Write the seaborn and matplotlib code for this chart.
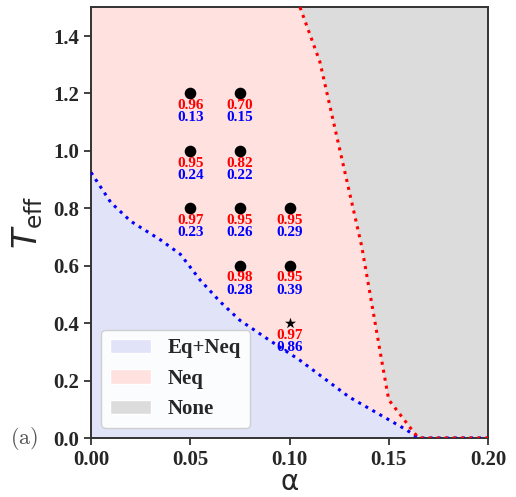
# encoding=utf-8

import numpy as np
import pandas as pd
import seaborn as sns
import matplotlib.pyplot as plt
from matplotlib.patches import Patch
from matplotlib.font_manager import FontProperties

# boundary Eq+Neq / Neq (blue dotted)
blue_alpha = [0.0, 0.01, 0.02, 0.035, 0.045, 0.055, 0.065, 0.075, 0.09, 0.105, 0.13, 0.159, 0.165, 0.2]
blue_T = [0.925, 0.82, 0.755, 0.69, 0.64, 0.55, 0.475, 0.41, 0.34, 0.272, 0.143, 0.028, 0.0, 0.0]

# boundary Neq / None (red dotted)
red_alpha = [0.1053, 0.1153, 0.1364, 0.147, 0.150, 0.1624, 0.165, 0.2]
red_T = [1.5, 1.31, 0.667, 0.248, 0.133, 0.022, 0.0, 0.0]

# simulated points
pt_alpha = [0.05, 0.075, 0.05, 0.075, 0.05, 0.075, 0.10, 0.075, 0.10]
pt_T = [1.2, 1.2, 1.0, 1.0, 0.8, 0.8, 0.8, 0.6, 0.6]
pt_red = ['0.96', '0.70', '0.95', '0.82', '0.97', '0.95', '0.95', '0.98', '0.95']
pt_blue = ['0.13', '0.15', '0.24', '0.22', '0.23', '0.26', '0.29', '0.28', '0.39']

star_alpha = [0.10]
star_T = [0.4]
star_red = ['0.97']
star_blue = ['0.86']

c_eq = '#e1e3f8'
c_neq = '#ffe2e0'
c_none = '#dcdcdc'

sns.set_style("ticks")
plt.rcParams['font.family'] = ['Liberation Serif', 'DejaVu Serif']
plt.rcParams['mathtext.fontset'] = 'dejavusans'

fig = plt.figure(figsize=(5.16, 4.97), dpi=100)
ax = fig.add_axes([0.1764, 0.1187, 0.7693, 0.8666])
ax.set_facecolor(c_none)

# regions
ra = np.array(red_alpha)
rt = np.array(red_T)
ax.fill(np.r_[0.0, ra[:-1], 0.0], np.r_[1.5, rt[:-1], 0.0], color=c_neq, lw=0, zorder=0)
ax.fill_between(blue_alpha, 0, blue_T, color=c_eq, lw=0, zorder=1)

blue_df = pd.DataFrame({'a': blue_alpha, 'T': blue_T})
red_df = pd.DataFrame({'a': red_alpha, 'T': red_T})
sns.lineplot(data=blue_df, x='a', y='T', sort=False, estimator=None, color='blue',
             linestyle=':', lw=2.2, ax=ax, zorder=3)
sns.lineplot(data=red_df, x='a', y='T', sort=False, estimator=None, color='red',
             linestyle=':', lw=2.2, ax=ax, zorder=3)

sns.scatterplot(x=pt_alpha, y=pt_T, color='black', marker='o', s=70, ax=ax, zorder=4, linewidth=0)
sns.scatterplot(x=star_alpha, y=star_T, color='black', marker='*', s=70, ax=ax, zorder=4, linewidth=0)

for a, t, r, b in zip(pt_alpha + star_alpha, pt_T + star_T, pt_red + star_red, pt_blue + star_blue):
    ax.annotate(r, (a, t), xytext=(0, -8.8), textcoords='offset points', ha='center', va='center',
                color='red', fontsize=11, fontweight='bold', zorder=5)
    ax.annotate(b, (a, t), xytext=(0, -17.5), textcoords='offset points', ha='center', va='center',
                color='blue', fontsize=11, fontweight='bold', zorder=5)

ax.set_xlim(0, 0.2)
ax.set_ylim(0, 1.5)
ax.set_xticks([0.0, 0.05, 0.10, 0.15, 0.20])
ax.set_xticklabels(['0.00', '0.05', '0.10', '0.15', '0.20'])
ax.set_yticks([0.0, 0.2, 0.4, 0.6, 0.8, 1.0, 1.2, 1.4])
ax.set_yticklabels(['0.0', '0.2', '0.4', '0.6', '0.8', '1.0', '1.2', '1.4'])
for lab in ax.get_xticklabels() + ax.get_yticklabels():
    lab.set_fontsize(15)
    lab.set_fontweight('bold')
ax.tick_params(direction='out', length=5, width=1.3, color='#333333')
for sp in ax.spines.values():
    sp.set_visible(True)
    sp.set_color('#333333')
    sp.set_linewidth(1.4)

ax.set_xlabel('α', fontsize=20, family='DejaVu Sans', labelpad=-1)
ax.set_ylabel(r'$T_{\rm eff}$', fontsize=24, labelpad=6)

handles = [Patch(facecolor=c_eq, label='Eq+Neq'),
           Patch(facecolor=c_neq, label='Neq'),
           Patch(facecolor=c_none, label='None')]
ax.legend(handles=handles, loc='lower left', prop={'size': 15, 'weight': 'bold'},
          frameon=True, framealpha=0.9, facecolor='white', edgecolor='#cccccc')

fp = FontProperties(size=16, math_fontfamily='cm')
fig.text(0.02, 1 - 438 / 497, r'$\mathrm{(a)}$', color='#555555', va='center', fontproperties=fp)

fig.savefig('out.png', dpi=100)
